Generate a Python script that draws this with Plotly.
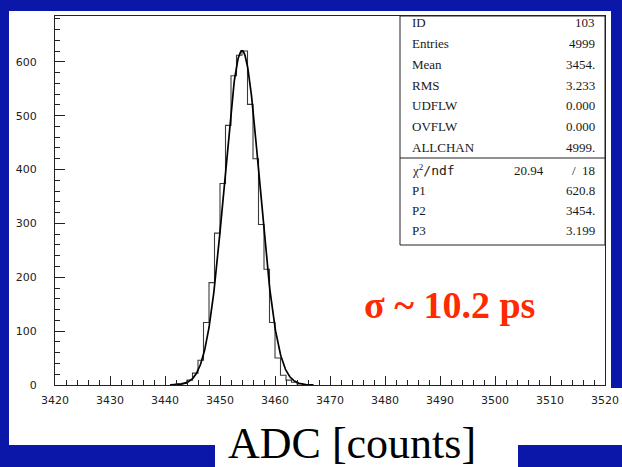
import numpy as np
import plotly.graph_objects as go

# ---------------- data ----------------
bin_low_edges = [3441, 3442, 3443, 3444, 3445, 3446, 3447, 3448, 3449, 3450,
                 3451, 3452, 3453, 3454, 3455, 3456, 3457, 3458, 3459, 3460,
                 3461, 3462, 3463, 3464, 3465]
bin_counts = [1, 2, 3, 9, 22, 46, 116, 190, 282, 374,
              482, 574, 612, 620, 521, 420, 298, 215, 116, 50,
              18, 9, 5, 2, 1]
bin_width = 1

# Gaussian fit parameters printed in the stats box (P1 amplitude, P2 mean, P3 sigma)
fit_params = [620.8, 3454.0, 3.199]
fit_range = [3441, 3467]

stat_labels = ["ID", "Entries", "Mean", "RMS", "UDFLW", "OVFLW", "ALLCHAN"]
stat_values = ["103", "4999", "3454.", "3.233", "0.000", "0.000", "4999."]
fit_labels = ["χ<sup>2</sup><span style=\"font-family:DejaVu Sans Mono\">/ndf</span>", "P1", "P2", "P3"]
fit_values = ["/  18", "620.8", "3454.", "3.199"]
chi2_value = "20.94"

x_ticks = [3420, 3430, 3440, 3450, 3460, 3470, 3480, 3490, 3500, 3510, 3520]
y_ticks = [0, 100, 200, 300, 400, 500, 600]

annotation_text = "σ ~ 10.2 ps"
x_title = "ADC [counts]"

# ---------------- layout geometry (pixels) ----------------
W, H = 622, 467
L, R, T, B = 55, 605, 16, 385


def px(x):
    return (x - L) / (R - L)


def py(y):
    return (B - y) / (B - T)


# histogram as a step line through bin edges
step_x = [bin_low_edges[0]] + bin_low_edges + [bin_low_edges[-1] + bin_width]
step_y = [0] + bin_counts + [0]

fx = np.linspace(fit_range[0], fit_range[1], 300)
fy = fit_params[0] * np.exp(-0.5 * ((fx - fit_params[1]) / fit_params[2]) ** 2)

fig = go.Figure()
fig.add_trace(go.Scatter(x=step_x, y=step_y, mode="lines",
                         line=dict(color="#3a3a3a", width=1.1, shape="hv"),
                         hoverinfo="skip", showlegend=False))
fig.add_trace(go.Scatter(x=fx, y=fy, mode="lines",
                         line=dict(color="#000000", width=1.7),
                         hoverinfo="skip", showlegend=False))

blue = "#0a17a8"
shapes = [
    # white panel
    dict(type="rect", xref="paper", yref="paper", x0=px(9), x1=px(611), y0=py(467), y1=py(11),
         fillcolor="white", line=dict(width=0), layer="below"),
    dict(type="rect", xref="paper", yref="paper", x0=px(610), x1=px(622), y0=py(445), y1=py(388),
         fillcolor="white", line=dict(width=0), layer="below"),
    # bottom blue bars
    dict(type="rect", xref="paper", yref="paper", x0=px(0), x1=px(215), y0=py(467), y1=py(445),
         fillcolor=blue, line=dict(width=0), layer="below"),
    dict(type="rect", xref="paper", yref="paper", x0=px(518), x1=px(622), y0=py(467), y1=py(445),
         fillcolor=blue, line=dict(width=0), layer="below"),
    # stats box
    dict(type="rect", xref="paper", yref="paper", x0=px(400), x1=px(605), y0=py(245), y1=py(16),
         fillcolor="white", line=dict(color="#222222", width=1), layer="above"),
    dict(type="line", xref="paper", yref="paper", x0=px(400), x1=px(605), y0=py(158), y1=py(158),
         line=dict(color="#222222", width=1), layer="above"),
]

annotations = []
sfont = dict(family="Liberation Serif", size=13, color="#1a1a1a")
for i, (lab, val) in enumerate(zip(stat_labels, stat_values)):
    yy = 23 + i * 20.7
    annotations.append(dict(x=px(410), y=py(yy), xref="paper", yref="paper", text=lab,
                            showarrow=False, xanchor="left", yanchor="middle", font=sfont))
    annotations.append(dict(x=px(597), y=py(yy), xref="paper", yref="paper", text=val,
                            showarrow=False, xanchor="right", yanchor="middle", font=sfont))
for i, (lab, val) in enumerate(zip(fit_labels, fit_values)):
    yy = 170 + i * 20.2
    annotations.append(dict(x=px(410), y=py(yy), xref="paper", yref="paper", text=lab,
                            showarrow=False, xanchor="left", yanchor="middle", font=sfont))
    annotations.append(dict(x=px(597), y=py(yy), xref="paper", yref="paper", text=val,
                            showarrow=False, xanchor="right", yanchor="middle", font=sfont))
annotations.append(dict(x=px(546), y=py(170), xref="paper", yref="paper", text=chi2_value,
                        showarrow=False, xanchor="right", yanchor="middle", font=sfont))

annotations.append(dict(x=px(449), y=py(305), xref="paper", yref="paper", text="<b>" + annotation_text + "</b>",
                        showarrow=False, xanchor="center", yanchor="middle",
                        font=dict(family="Liberation Serif", size=38, color="#ff2a00")))
annotations.append(dict(x=px(352), y=py(443), xref="paper", yref="paper", text=x_title,
                        showarrow=False, xanchor="center", yanchor="middle",
                        font=dict(family="Liberation Serif", size=44, color="#000000")))

tickfont = dict(family="DejaVu Sans", size=11, color="#222222")
fig.update_layout(
    width=W, height=H,
    margin=dict(l=L, r=W - R, t=T, b=H - B, pad=0, autoexpand=False),
    paper_bgcolor=blue,
    plot_bgcolor="rgba(0,0,0,0)",
    shapes=shapes,
    annotations=annotations,
    xaxis=dict(range=[3420, 3520], tickvals=x_ticks, ticktext=[str(v) for v in x_ticks],
               ticks="inside", ticklen=9, tickwidth=1, tickcolor="#222222",
               minor=dict(dtick=2, ticks="inside", ticklen=5, tickwidth=1, tickcolor="#222222"),
               showgrid=False, zeroline=False, showline=True, mirror=True, automargin=False,
               linecolor="#222222", linewidth=1, tickfont=tickfont, ticklabelstandoff=5),
    yaxis=dict(range=[0, 685], tickvals=y_ticks, ticktext=[str(v) for v in y_ticks],
               ticks="inside", ticklen=10, tickwidth=1, tickcolor="#222222",
               minor=dict(dtick=20, ticks="inside", ticklen=5, tickwidth=1, tickcolor="#222222"),
               showgrid=False, zeroline=False, showline=True, mirror=True, automargin=False,
               linecolor="#222222", linewidth=1, tickfont=tickfont, ticklabelstandoff=15),
)

fig.write_html("out.html", config={"displayModeBar": False},
               post_script="document.body.style.margin='0';document.body.style.overflow='hidden';")
